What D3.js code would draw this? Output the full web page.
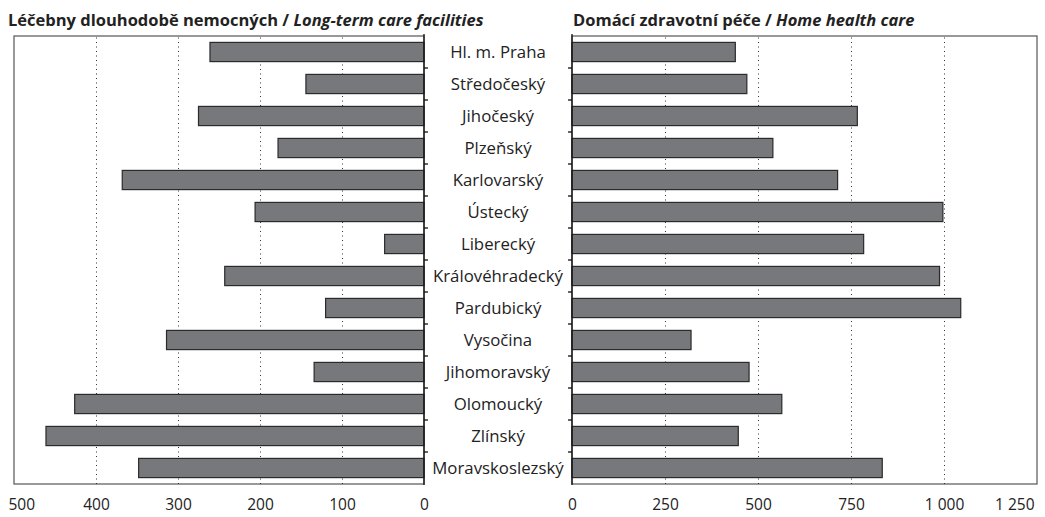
<!DOCTYPE html>
<html>
<head>
<meta charset="utf-8">
<script src="https://cdn.jsdelivr.net/npm/d3@7"></script>
<style>
  body { margin: 0; background: #fff; }
  svg { display: block; font-family: "Open Sans", "Noto Sans", sans-serif; }
</style>
</head>
<body>
<div id="chart"></div>
<script>
const regions = [
  'Hl. m. Praha', 'Středočeský', 'Jihočeský', 'Plzeňský', 'Karlovarský',
  'Ústecký', 'Liberecký', 'Královéhradecký', 'Pardubický', 'Vysočina',
  'Jihomoravský', 'Olomoucký', 'Zlínský', 'Moravskoslezský',
];
const longTermCare = [261, 144, 275, 178, 368, 206, 48, 243, 120, 314, 134, 426, 461, 348];
const homeCare = [439, 470, 767, 540, 714, 997, 784, 988, 1045, 320, 476, 564, 447, 834];
const leftTicks = [500, 400, 300, 200, 100, 0];
const rightTicks = [0, 250, 500, 750, 1000, 1250];
const leftTitle = ['Léčebny dlouhodobě nemocných', 'Long-term care facilities'];
const rightTitle = ['Domácí zdravotní péče', 'Home health care'];

const width = 1045;
const height = 517;
const plotTop = 36;
const plotBottom = 484;

const czLocale = d3.formatLocale({ decimal: ',', thousands: '\u00a0', grouping: [3], currency: ['', ''] });
const fmt = czLocale.format(',d');

const svg = d3.select('#chart').append('svg')
  .attr('width', width)
  .attr('height', height);

const y = d3.scaleBand()
  .domain(regions)
  .range([plotTop, plotBottom])
  .paddingInner(0.4)
  .paddingOuter(0.2);

const xLeft = d3.scaleLinear().domain([500, 0]).range([14, 424]);
const xRight = d3.scaleLinear().domain([0, 1250]).range([572, 1037]);

const drawPanel = (xScale, values, ticks, gridValues, side) => {
  const g = svg.append('g');
  const [x0, x1] = xScale.range();
  const zeroX = xScale(0);

  // frame
  g.append('rect')
    .attr('x', Math.min(x0, x1)).attr('y', plotTop)
    .attr('width', Math.abs(x1 - x0)).attr('height', plotBottom - plotTop)
    .attr('fill', 'none')
    .attr('stroke', '#555')
    .attr('stroke-width', 1.2);

  // dotted grid
  g.append('g')
    .attr('transform', `translate(0,${plotBottom})`)
    .call(d3.axisBottom(xScale).tickValues(gridValues).tickSize(-(plotBottom - plotTop)).tickFormat(''))
    .call(a => a.select('.domain').remove())
    .call(a => a.selectAll('line')
      .attr('stroke', '#333')
      .attr('stroke-width', 1)
      .attr('stroke-dasharray', '1,3.5'));

  // bars
  g.selectAll('rect.bar')
    .data(values)
    .join('rect')
    .attr('class', 'bar')
    .attr('x', d => Math.min(xScale(d), zeroX))
    .attr('y', (d, i) => y(regions[i]))
    .attr('width', d => Math.abs(xScale(d) - zeroX))
    .attr('height', y.bandwidth())
    .attr('fill', '#77787c')
    .attr('stroke', '#2a2a2a')
    .attr('stroke-width', 1.2);

  // category axis line + ticks at band borders
  g.append('line')
    .attr('x1', zeroX).attr('x2', zeroX)
    .attr('y1', plotTop - 2).attr('y2', plotBottom + 1)
    .attr('stroke', '#111')
    .attr('stroke-width', 1.3);

  const dir = side === 'left' ? 1 : -1;
  const border = d => y(d) + y.bandwidth() + (y.step() - y.bandwidth()) / 2;
  g.selectAll('line.cat-tick')
    .data(regions.slice(0, -1))
    .join('line')
    .attr('class', 'cat-tick')
    .attr('x1', zeroX)
    .attr('x2', zeroX + dir * 4)
    .attr('y1', border)
    .attr('y2', border)
    .attr('stroke', '#111')
    .attr('stroke-width', 1.3);

  // value labels
  const axis = g.append('g')
    .attr('transform', `translate(0,${plotBottom})`)
    .call(d3.axisBottom(xScale).tickValues(ticks).tickSize(0).tickPadding(15).tickFormat(fmt));
  axis.select('.domain').remove();
  axis.selectAll('text')
    .attr('font-size', 15.5)
    .attr('font-family', '"Open Sans", sans-serif')
    .attr('fill', '#222');
  if (side === 'left') {
    axis.selectAll('text').filter(d => d === 500)
      .attr('text-anchor', 'start').attr('dx', -6);
  } else {
    axis.selectAll('text').filter(d => d === 1250)
      .attr('text-anchor', 'end').attr('dx', -3);
  }
};

drawPanel(xLeft, longTermCare, leftTicks, [400, 300, 200, 100], 'left');
drawPanel(xRight, homeCare, rightTicks, [250, 500, 750, 1000], 'right');

// region names in the middle
svg.append('g')
  .selectAll('text')
  .data(regions)
  .join('text')
  .attr('x', (xLeft(0) + xRight(0)) / 2)
  .attr('y', d => y(d) + y.bandwidth() / 2)
  .attr('dy', '0.38em')
  .attr('text-anchor', 'middle')
  .attr('font-size', 16.8)
  .attr('fill', '#222')
  .text(d => d);

// titles
const addTitle = (x, parts) => {
  const t = svg.append('text')
    .attr('x', x)
    .attr('y', 26)
    .attr('font-size', 16.5)
    .attr('font-weight', 'bold')
    .attr('fill', '#222');
  t.append('tspan').text(`${parts[0]} / `);
  t.append('tspan').attr('font-style', 'italic').text(parts[1]);
};
addTitle(8, leftTitle);
addTitle(573, rightTitle);
</script>
</body>
</html>
